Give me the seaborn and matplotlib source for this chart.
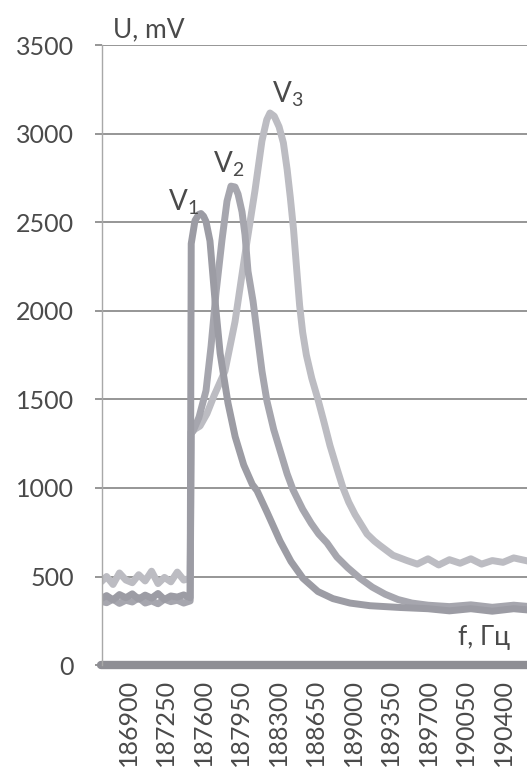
import matplotlib
matplotlib.use('Agg')
import matplotlib.pyplot as plt
import pandas as pd
import seaborn as sns

# frequency grid of the flat part before the jump (shared by all three curves)
base_freq = [186650, 186700, 186760, 186820, 186880, 186940, 187000, 187060,
             187120, 187180, 187240, 187300, 187360, 187420, 187480]

v1_base = [375, 392, 368, 398, 380, 402, 372, 395, 378, 404, 370, 390, 384, 396, 380]
v2_base = [360, 352, 372, 348, 366, 356, 380, 350, 362, 346, 372, 358, 366, 350, 362]
v3_base = [470, 500, 455, 520, 480, 465, 510, 475, 530, 460, 495, 470, 525, 480, 490]

# part after the jump
v1_freq = [187490, 187525, 187560, 187581, 187605, 187628, 187665, 187712, 187760,
           187833, 187900, 187980, 188060, 188104, 188200, 188319, 188421, 188533,
           188673, 188813, 188972, 189159, 189439, 189700, 189900, 190100, 190300,
           190500, 190650]
v1_vals = [2380, 2510, 2545, 2550, 2535, 2505, 2395, 2060, 1760,
           1480, 1290, 1130, 1020, 985, 860, 700, 585, 490,
           415, 375, 350, 335, 325, 318, 306, 318, 304, 318, 310]

v2_freq = [187490, 187507, 187563, 187628, 187675, 187721, 187777, 187824, 187861,
           187899, 187927, 187964, 187992, 188020, 188067, 188110, 188151, 188197,
           188260, 188330, 188385, 188440, 188530, 188610, 188680, 188757, 188850,
           188950, 189065, 189180, 189300, 189420, 189550, 189700, 189900, 190100,
           190300, 190500, 190650]
v2_vals = [1320, 1320, 1400, 1550, 1800, 2100, 2400, 2620, 2705,
           2700, 2660, 2560, 2430, 2224, 2055, 1850, 1658, 1490,
           1330, 1190, 1080, 990, 880, 800, 740, 690, 610,
           550, 490, 440, 400, 370, 350, 338, 330, 340, 326, 338, 330]

v3_freq = [187490, 187572, 187637, 187702, 187805, 187899, 187992, 188085, 188150,
           188195, 188225, 188265, 188310, 188350, 188385, 188415, 188445, 188475,
           188502, 188530, 188565, 188615, 188673, 188730, 188785, 188850, 188907,
           188960, 189019, 189080, 189131, 189200, 189252, 189373, 189504, 189600,
           189700, 189800, 189900, 190000, 190100, 190200, 190300, 190400, 190500,
           190650]
v3_vals = [1320, 1350, 1420, 1520, 1660, 1940, 2320, 2680, 2960,
           3080, 3118, 3100, 3040, 2950, 2800, 2640, 2460, 2230,
           2030, 1880, 1750, 1620, 1500, 1370, 1240, 1110, 1000,
           920, 850, 790, 740, 700, 675, 620, 590, 570,
           600, 565, 595, 575, 600, 570, 590, 580, 605, 585]

zero_freq = [186650, 190650]
zero_vals = [0, 0]

x_ticks = [186900, 187250, 187600, 187950, 188300, 188650, 189000,
           189350, 189700, 190050, 190400]
y_ticks = [0, 500, 1000, 1500, 2000, 2500, 3000, 3500]

sns.set_theme(style='white')
plt.rcParams['font.family'] = ['Lato', 'Open Sans', 'DejaVu Sans']
plt.rcParams['mathtext.fontset'] = 'custom'
plt.rcParams['mathtext.rm'] = 'Lato'
plt.rcParams['mathtext.default'] = 'regular'

text_col = '#4a4a4a'
grid_col = '#8e8e8e'

fig = plt.figure(figsize=(5.27, 7.8), dpi=100)
ax = fig.add_axes([0.1935, 0.1474, 0.8065, 0.7949])


def series(freq, vals):
    return pd.DataFrame({'f': freq, 'U': vals})


d1 = series(base_freq + v1_freq, v1_base + v1_vals)
d2 = series(base_freq + v2_freq, v2_base + v2_vals)
d3 = series(base_freq + v3_freq, v3_base + v3_vals)
d0 = series(zero_freq, zero_vals)

sns.lineplot(data=d3, x='f', y='U', ax=ax, color='#bcbcc2', lw=5,
             estimator=None, sort=False)
sns.lineplot(data=d2, x='f', y='U', ax=ax, color='#a6a6ae', lw=5,
             estimator=None, sort=False)
sns.lineplot(data=d1, x='f', y='U', ax=ax, color='#9c9ca4', lw=5,
             estimator=None, sort=False)
sns.lineplot(data=d0, x='f', y='U', ax=ax, color='#8e8e94', lw=6,
             estimator=None, sort=False)
ax.lines[-1].set_clip_on(False)

ax.set_xlim(186657, 190624)
ax.set_ylim(0, 3502)
ax.set_xticks(x_ticks)
ax.set_xticklabels([str(v) for v in x_ticks], rotation=90)
ax.set_yticks(y_ticks)
ax.set_xlabel('')
ax.set_ylabel('')

ax.grid(axis='y', color=grid_col, lw=1.3)
ax.set_axisbelow(True)
ax.tick_params(axis='y', length=5, width=1.3, color=grid_col, pad=15,
               labelsize=18, labelcolor=text_col, left=True)
ax.tick_params(axis='x', length=0, pad=10, labelsize=18, labelcolor=text_col)
for s in ['top', 'right', 'bottom']:
    ax.spines[s].set_visible(False)
ax.spines['left'].set_color('#a8a8a8')
ax.spines['left'].set_linewidth(1.0)

ax.text(186760, 3545, 'U, mV', fontsize=19, color=text_col, va='baseline')
ax.text(187273, 2570, 'V$_1$', fontsize=20, color=text_col, va='baseline')
ax.text(187693, 2780, 'V$_2$', fontsize=20, color=text_col, va='baseline')
ax.text(188244, 3180, 'V$_3$', fontsize=20, color=text_col, va='baseline')
ax.text(189980, 113, 'f, Гц', fontsize=19, color=text_col, va='baseline')

fig.savefig('out.png', dpi=100)
